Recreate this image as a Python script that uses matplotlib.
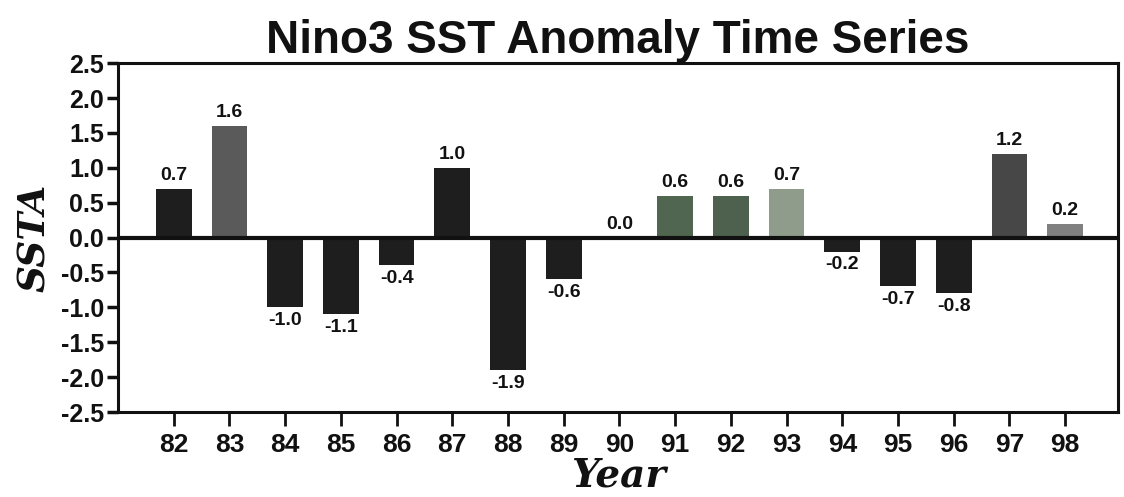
import matplotlib
matplotlib.use("Agg")
import matplotlib.pyplot as plt

years = [82, 83, 84, 85, 86, 87, 88, 89, 90, 91, 92, 93, 94, 95, 96, 97, 98]
ssta = [0.7, 1.6, -1.0, -1.1, -0.4, 1.0, -1.9, -0.6, 0.0, 0.6, 0.6, 0.7, -0.2, -0.7, -0.8, 1.2, 0.2]
bar_colors = ['#1e1e1e', '#5a5a5a', '#1e1e1e', '#1e1e1e', '#1e1e1e', '#1e1e1e', '#1e1e1e',
              '#1e1e1e', '#1e1e1e', '#506650', '#4e604e', '#8f9c8c', '#1e1e1e', '#1e1e1e',
              '#1e1e1e', '#474747', '#808080']
yticks = [-2.5, -2.0, -1.5, -1.0, -0.5, 0.0, 0.5, 1.0, 1.5, 2.0, 2.5]

sans = ['Liberation Sans', 'DejaVu Sans']
serif = ['DejaVu Serif']

fig = plt.figure(figsize=(11.24, 4.97), dpi=100)
ax = fig.add_axes([0.105, 0.171, 0.8897, 0.702])

ax.bar(years, ssta, width=0.64, color=bar_colors, zorder=2)
ax.axhline(0, color='#111111', lw=3, zorder=3)

for x, v in zip(years, ssta):
    if v >= 0:
        ax.text(x, v + 0.07, f"{v:.1f}", ha='center', va='bottom', fontsize=14,
                fontweight='bold', family=sans, color='#111111')
    else:
        ax.text(x, v - 0.07, f"{v:.1f}", ha='center', va='top', fontsize=14,
                fontweight='bold', family=sans, color='#111111')

ax.set_xlim(81.0, 98.95)
ax.set_ylim(-2.5, 2.5)
ax.set_xticks(years)
ax.set_xticklabels([str(y) for y in years])
ax.set_yticks(yticks)
ax.set_yticklabels([f"{t:.1f}" for t in yticks])

for s in ax.spines.values():
    s.set_linewidth(2.2)
    s.set_color('#111111')

ax.tick_params(axis='y', direction='out', length=8, width=2.5, pad=2, labelsize=18, colors='#111111')
ax.tick_params(axis='x', direction='out', length=10, width=2, pad=5, labelsize=19, colors='#111111')
for lab in ax.get_xticklabels() + ax.get_yticklabels():
    lab.set_fontweight('bold')
    lab.set_family(sans)

ax.set_title("Nino3 SST Anomaly Time Series", fontsize=33, fontweight='bold', family=sans,
             pad=4, color='#111111')
ax.set_ylabel("SSTA", fontsize=27, fontweight='bold', style='italic', family=serif,
              labelpad=6, color='#111111')
ax.set_xlabel("Year", fontsize=28, fontweight='bold', style='italic', family=serif,
              labelpad=0, color='#111111')

fig.savefig("out.png", dpi=100)
